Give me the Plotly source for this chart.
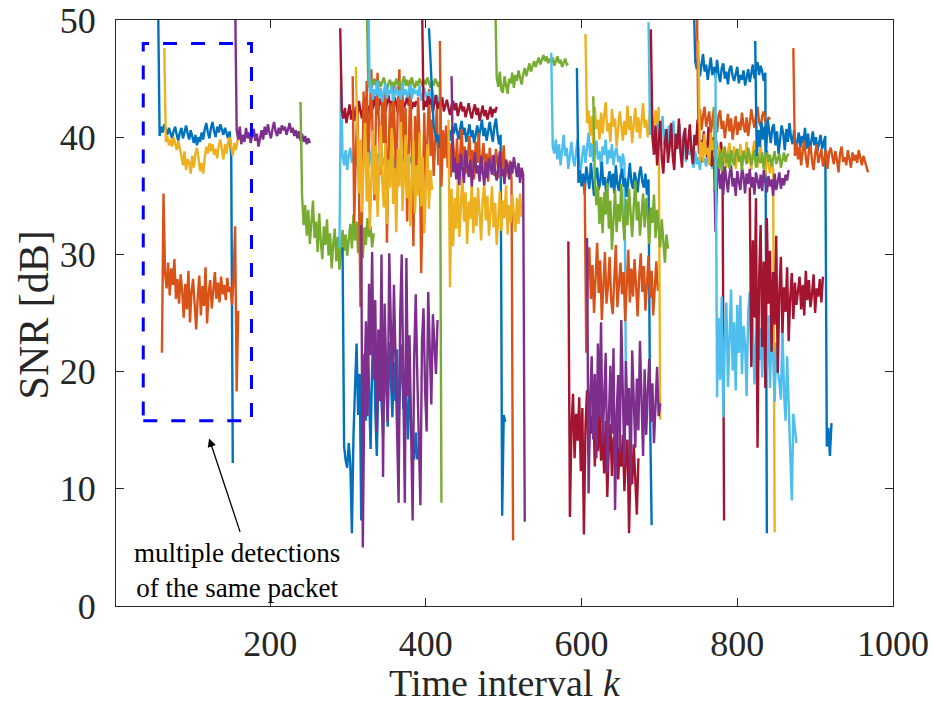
import plotly.graph_objects as go

# MATLAB default colour order (lines are drawn in time order, colours cycle)
colors = ["#0072BD", "#D95319", "#EDB120", "#7E2F8E", "#77AC30", "#4DBEEE", "#A2142F"]

k_step = 2
# start time interval of each detected packet (one line per packet)
k_start = [56, 61, 64, 155, 239, 289, 290, 293, 306, 310, 317, 324, 326, 395, 404,
           418, 429, 433, 489, 561, 583, 594, 604, 605, 607, 615, 686, 689, 744,
           748, 750, 770, 770, 772, 816, 823, 872]

snr_01 = [52.0, 40.1, 40.9, 40.4, 41.1, 40.6, 40.2, 40.8, 40.3, 39.9, 40.5, 40.9, 40.2, 39.7, 40.4, 40.8, 39.9, 40.5, 41.0, 40.3, 39.8, 40.6, 40.1, 39.5, 40.2, 39.3, 40.0, 39.6, 40.4, 39.8, 40.7, 41.2, 40.4, 39.9, 40.8, 41.3, 40.5, 40.0, 40.9, 40.4, 41.1, 40.6, 40.2, 40.8, 40.3, 39.9, 40.5, 38.3, 12.2]
snr_02 = [21.6, 35.2, 28.4, 27.1, 29.3, 26.5, 28.8, 27.4, 29.6, 26.2, 27.9, 25.8, 28.3, 26.9, 24.6, 27.5, 25.3, 28.6, 24.2, 26.8, 27.9, 25.1, 23.6, 26.4, 28.2, 24.8, 27.3, 25.6, 28.9, 24.1, 26.7, 27.8, 25.4, 26.9, 28.5, 26.2, 27.6, 25.9, 28.1, 26.6, 27.4, 26.1, 28.0, 26.8, 27.2, 25.7, 27.9, 32.4, 18.3, 25.2]
snr_03 = [47.6, 39.6, 40.1, 39.3, 39.8, 39.2, 40.0, 39.5, 38.9, 39.7, 39.1, 38.4, 37.6, 38.8, 37.2, 38.1, 37.9, 36.9, 38.4, 37.4, 38.6, 39.1, 38.2, 37.1, 37.8, 36.9, 38.3, 39.2, 38.6, 39.5, 38.8, 39.4, 38.5, 39.0, 38.2, 39.3, 39.8, 38.7, 38.1, 39.4, 38.6, 39.6, 40.0, 39.2, 38.4, 39.5, 38.9, 39.7, 39.9]
snr_04 = [52.0, 40.6, 39.8, 40.9, 39.4, 40.2, 39.6, 40.8, 39.9, 40.4, 39.5, 40.1, 40.7, 39.7, 40.3, 39.2, 40.0, 40.6, 39.8, 40.9, 40.2, 41.1, 40.4, 39.9, 40.7, 41.3, 40.5, 40.1, 40.8, 40.3, 41.0, 40.6, 40.9, 40.2, 40.7, 41.2, 40.4, 40.8, 40.1, 40.6, 39.9, 40.5, 39.7, 40.3, 39.6, 40.1, 39.4, 39.9, 39.5]
snr_05 = [43.0, 35.0, 32.5, 34.2, 31.6, 33.8, 30.9, 33.1, 34.6, 31.4, 32.8, 30.2, 33.5, 31.1, 29.6, 32.4, 30.8, 33.0, 29.9, 31.8, 28.8, 30.9, 32.2, 29.4, 31.5, 28.7, 30.6, 32.1, 30.3, 31.7, 29.9, 31.3, 32.6, 30.5, 33.4, 31.2, 32.8, 30.1, 33.6, 31.9, 29.7, 32.3, 30.8, 33.1, 31.5, 32.4, 30.6, 31.8]
snr_06 = [30.6, 45.2, 38.4, 37.6, 38.9, 37.2, 38.5, 39.1, 37.8, 38.6, 37.4, 38.2, 39.0, 37.7, 38.8, 37.3, 38.4, 37.9, 38.7, 37.5, 38.3, 39.2, 37.8, 38.5, 37.1, 38.6, 38.0, 38.9, 37.6, 38.2, 37.4, 38.8, 38.1, 37.7, 38.5, 37.2, 38.3, 38.9, 37.6, 38.4, 37.9, 38.6, 37.3, 38.1, 38.7, 37.8, 38.3, 37.5]
snr_07 = [49.3, 42.3, 41.6, 42.5, 41.2, 42.0, 42.8, 41.5, 42.3, 41.4, 42.6, 41.9, 43.1, 42.2, 41.6, 42.9, 43.4, 42.1, 42.7, 41.8, 43.2, 42.4, 43.5, 42.6, 41.9, 42.8, 43.3, 42.5, 43.0, 42.2, 42.9, 43.6, 42.7, 43.1, 42.4, 43.4, 42.8, 42.1, 43.0, 42.6, 43.3, 42.5, 42.9, 43.5, 42.7, 43.2, 42.4, 43.0, 42.6, 43.1]
snr_08 = [30.6, 13.6, 12.4, 11.8, 13.9, 12.1, 6.2, 14.5, 18.6, 22.4, 16.3, 19.8, 7.3, 17.1, 21.5, 15.8, 23.8, 18.2, 13.4, 20.6, 24.1, 16.7, 12.8, 19.5, 22.9, 17.4, 14.6, 21.2, 18.9, 15.3, 22.5, 19.6, 16.1, 20.8, 17.5, 21.9, 15.6, 19.2, 22.3, 16.8, 20.1, 17.9, 14.2, 18.6, 15.4, 13.1, 12.5, 14.8, 12.5]
snr_09 = [45.2, 32.7, 38.5, 42.6, 36.1, 25.5, 33.8, 43.9, 39.2, 44.8, 37.5, 41.6, 45.8, 38.9, 34.6, 42.3, 45.5, 40.1, 36.8, 43.7, 39.5, 44.2, 31.0, 38.6, 42.9, 36.4, 44.6, 40.8, 35.2, 43.1, 45.8, 39.7, 44.3, 37.9, 42.5, 32.8, 40.6, 44.9, 38.1, 30.7, 41.8, 36.9, 43.4, 39.9, 28.4, 37.3, 42.1, 35.6, 40.9, 44.1, 38.4, 41.5, 36.7, 39.8, 42.4, 37.6]
snr_10 = [46.0, 41.0, 35.2, 39.8, 33.6, 37.9, 41.2, 34.5, 38.7, 32.1, 36.4, 40.6, 35.1, 39.3, 33.2, 37.8, 41.0, 36.2, 34.0, 39.5, 32.6, 38.1, 35.7, 40.8, 34.3, 37.4, 31.9, 39.0, 35.8, 41.3, 33.7, 37.1, 40.2, 34.8, 38.6, 32.4, 36.9, 39.7, 33.5, 37.6, 35.0, 40.4, 34.1, 38.3, 31.8, 36.5, 39.4, 33.9, 37.2, 35.5]
snr_11 = [32.5, 5.0, 18.6, 24.3, 16.2, 27.5, 21.4, 30.2, 19.3, 26.1, 14.8, 23.6, 17.5, 30.0, 11.0, 25.8, 20.4, 15.7, 30.1, 22.9, 18.1, 27.4, 21.7, 14.3, 8.8, 24.8, 30.0, 19.2, 8.8, 29.7, 17.9, 23.1, 16.4, 7.3, 21.2, 26.6, 19.6, 15.1, 8.6, 22.6, 25.4, 18.4, 14.9, 26.8, 20.7, 17.2, 24.9, 22.1, 19.8, 24.4]
snr_12 = [52.0, 44.6, 44.2, 44.9, 44.4, 45.0, 44.5, 44.1, 44.8, 44.3, 44.7, 45.1, 44.4, 44.0, 44.6, 44.9, 44.2, 44.7, 44.3, 45.0, 44.5, 44.8, 44.1, 44.6, 45.2, 44.4, 44.9, 44.3, 44.7, 45.1, 44.5, 44.2, 44.8, 44.4, 45.0, 44.6, 44.3, 44.9, 44.5, 45.1, 44.7, 44.2, 44.8, 44.4, 45.0, 44.6, 44.3, 44.8, 8.8]
snr_13 = [52.0, 43.8, 44.5, 43.2, 44.1, 43.6, 44.8, 43.4, 44.2, 43.0, 43.9, 44.6, 43.3, 44.0, 43.7, 44.4, 43.1, 43.8, 44.3, 43.5, 44.0, 43.2, 44.7, 43.6, 44.1, 43.4, 43.9, 44.5, 43.3, 44.2, 43.7, 44.0, 43.5, 44.4, 43.1, 43.8, 44.2, 43.6, 43.0, 43.9, 43.4, 44.1, 43.3, 42.8, 43.6, 43.1, 42.7, 43.4, 43.0]
snr_14 = [52.0, 42.3, 43.1, 42.6, 43.5, 42.8, 43.3, 42.1, 42.9, 43.6, 42.4, 43.0, 42.7, 43.4, 42.2, 42.8, 43.2, 42.5, 41.9, 42.7, 43.1, 42.3, 42.9, 41.8, 42.5, 43.0, 42.2, 42.6, 41.7, 42.4, 42.9, 42.1, 41.6, 42.3, 42.8, 41.9, 42.5, 41.4, 42.2, 42.7, 41.8, 42.3, 41.5, 42.0, 42.6, 41.7, 42.4, 42.1, 42.6]
snr_15 = [49.3, 46.5, 43.2, 41.0, 40.4, 39.6, 40.2, 39.1, 39.8, 38.7, 39.4, 38.5, 39.9, 40.6, 39.7, 40.9, 40.3, 41.2, 40.5, 39.8, 40.7, 41.4, 40.2, 40.8, 39.6, 40.4, 41.1, 40.0, 40.6, 39.5, 40.3, 41.0, 39.9, 40.7, 41.5, 40.1, 40.8, 39.7, 40.5, 41.3, 40.4, 39.6, 40.9, 41.6, 40.3, 39.4, 40.2, 7.7, 16.3, 15.7]
snr_16 = [48.2, 35.8, 40.6, 38.2, 41.0, 37.4, 39.5, 36.6, 40.3, 38.8, 37.1, 39.9, 36.3, 38.5, 40.7, 37.6, 39.2, 36.9, 38.7, 40.1, 37.3, 38.9, 36.4, 39.6, 37.8, 40.4, 36.8, 38.3, 39.5, 37.0, 38.6, 36.2, 39.1, 37.5, 38.4, 36.7, 39.0, 37.9, 36.5, 38.2, 37.2, 39.3, 36.6, 37.8, 36.9, 38.0, 36.4, 5.6]
snr_17 = [41.5, 27.2, 35.6, 30.7, 34.8, 32.2, 36.4, 31.5, 34.1, 36.9, 32.8, 35.3, 30.9, 34.5, 33.0, 36.2, 31.8, 34.9, 32.4, 35.7, 33.6, 31.2, 34.7, 36.1, 32.9, 35.0, 31.6, 33.9, 35.8, 32.3, 34.4, 30.8, 33.5, 35.4, 32.0, 34.6, 33.1, 35.9, 31.7, 34.2, 32.7, 35.1, 33.4, 31.9, 34.8, 32.6, 35.2, 33.2]
snr_18 = [45.2, 37.0, 38.3, 36.4, 37.8, 35.9, 38.6, 37.2, 36.1, 38.9, 37.5, 36.6, 38.1, 35.8, 37.3, 38.7, 36.9, 37.6, 36.2, 38.4, 37.1, 35.9, 37.9, 36.5, 38.2, 37.4, 36.8, 38.5, 37.0, 36.3, 37.7, 38.8, 36.7, 37.3, 36.0, 38.1, 37.5, 36.4, 37.9, 36.9, 38.3, 37.2, 36.6, 37.8, 36.1, 37.4, 36.8, 7.2]
snr_19 = [52.0, 45.1, 44.3, 45.6, 44.0, 43.8, 45.2, 44.4, 43.7, 45.0, 44.6, 45.5, 44.2, 45.3, 44.8, 45.7, 45.1, 44.5, 45.4, 45.9, 45.2, 45.8, 46.3, 45.6, 46.1, 46.5, 46.0, 46.4, 46.8, 46.2, 46.6, 47.0, 46.5, 46.9, 46.3, 46.7, 46.4, 46.8, 46.1, 46.5, 46.9, 46.3, 46.6, 46.0, 46.4, 46.7, 46.2, 46.3]
snr_20 = [47.2, 39.2, 38.6, 39.8, 38.1, 39.4, 37.6, 38.9, 40.2, 38.4, 39.1, 37.3, 38.7, 39.6, 38.2, 37.5, 38.8, 39.9, 38.0, 37.2, 38.5, 39.3, 37.8, 38.9, 40.4, 38.3, 39.5, 37.9, 38.6, 39.7, 38.1, 38.8, 37.4, 39.2, 38.5, 39.8, 37.7, 38.9, 38.2, 39.4, 37.6, 38.7, 39.1, 37.9, 38.4, 37.2, 38.6, 37.8, 18.7]
snr_21 = [31.1, 7.6, 15.2, 18.1, 12.6, 16.4, 14.1, 17.8, 11.5, 16.9, 6.1, 15.3, 18.4, 12.9, 16.2, 14.7, 17.3, 11.9, 15.6, 13.2, 16.8, 12.4, 14.9, 11.3, 15.8, 9.3, 13.6, 15.5, 11.1, 14.4, 12.2, 15.9, 10.8, 13.5, 11.9, 14.6, 9.8, 12.9, 14.2, 6.2, 12.7, 10.4, 13.8, 11.2, 7.8, 12.6]
snr_22 = [45.9, 36.1, 37.2, 35.8, 36.9, 35.1, 37.5, 36.3, 35.6, 37.8, 36.5, 35.0, 36.8, 37.4, 35.5, 36.2, 37.9, 35.9, 36.6, 34.8, 36.4, 37.1, 35.7, 36.9, 35.2, 37.6, 36.0, 35.4, 36.7, 37.3, 35.8, 36.5, 34.9, 36.3, 37.8, 36.1, 35.6, 37.0, 36.4, 35.3, 36.8, 37.5, 36.2, 35.7, 36.9, 35.1, 36.4, 16.1, 6.9]
snr_23 = [36.1, 21.6, 28.4, 30.6, 26.2, 29.1, 25.0, 27.8, 31.0, 26.7, 29.5, 24.4, 28.2, 30.2, 25.8, 27.4, 29.8, 26.1, 24.9, 28.7, 30.8, 25.5, 27.9, 29.3, 26.6, 28.5, 24.3, 27.1, 30.4, 25.9, 28.8, 26.4, 29.6, 27.3, 24.7, 28.1, 30.1, 26.8, 29.0, 25.2, 27.6, 29.9, 26.3, 28.6, 24.8, 27.7, 29.4, 26.9, 27.5]
snr_24 = [48.8, 41.2, 42.3, 40.1, 41.8, 39.4, 42.6, 40.7, 41.5, 39.8, 42.1, 40.3, 41.9, 43.0, 40.5, 41.2, 39.6, 42.4, 40.9, 41.6, 39.2, 40.8, 42.2, 41.0, 39.7, 41.4, 40.2, 42.7, 40.6, 41.8, 39.5, 41.1, 42.5, 40.4, 41.7, 39.9, 41.3, 42.9, 40.8, 41.5, 40.0, 42.0, 43.1, 41.4, 40.6, 42.3, 41.0, 42.6, 15.9]
snr_25 = [31.4, 9.6, 17.5, 21.3, 14.2, 19.8, 12.6, 22.4, 16.1, 24.2, 13.8, 18.9, 21.6, 11.4, 17.2, 20.5, 14.7, 22.0, 8.2, 16.3, 19.7, 13.1, 24.4, 17.8, 12.0, 20.9, 15.4, 18.6, 10.3, 21.8, 16.7, 13.5, 19.4, 15.0, 22.6, 17.1, 12.8, 20.2, 14.6, 18.3, 21.1, 15.7, 19.0, 13.9, 17.6, 20.4, 16.2, 17.3]
snr_26 = [43.5, 36.4, 34.2, 35.8, 32.6, 34.9, 31.8, 35.3, 33.4, 36.1, 32.2, 34.6, 30.4, 33.7, 35.5, 31.9, 34.3, 32.8, 36.0, 33.1, 31.2, 34.7, 32.5, 35.6, 33.9, 31.5, 34.1, 36.3, 32.9, 34.5, 31.6, 33.6, 35.2, 32.3, 34.8, 33.2, 30.9, 34.0, 32.7, 35.1, 31.4, 33.8, 32.1, 30.6, 33.0, 31.3, 29.3, 31.7, 30.5]
snr_27 = [49.8, 40.2, 41.5, 39.4, 40.8, 38.6, 41.2, 39.9, 40.5, 41.8, 39.3, 40.7, 38.9, 41.0, 40.1, 39.6, 41.4, 38.8, 40.3, 39.7, 41.1, 38.4, 39.8, 40.6, 37.9, 39.2, 38.5, 39.6, 38.1, 37.4, 38.8, 37.7, 38.3, 37.2, 38.6, 37.9, 38.2, 37.5, 38.7, 37.8, 38.4, 37.3, 38.1, 37.6, 38.5, 37.9, 38.2, 37.4, 38.0, 37.7]
snr_28 = [49.2, 40.1, 38.5, 41.0, 37.6, 39.8, 41.4, 38.2, 36.9, 39.5, 40.7, 37.8, 39.1, 41.2, 38.4, 37.2, 40.3, 39.0, 41.6, 38.7, 37.4, 39.9, 40.8, 38.1, 39.6, 41.1, 38.9, 37.7, 40.2, 39.3, 41.5, 38.6, 39.8, 37.9, 40.5, 39.2, 38.3, 40.9, 39.4, 37.5, 40.0, 38.8, 39.7, 37.1, 38.5, 39.6, 38.2, 7.3]
snr_29 = [52.0, 46.5, 45.8, 46.9, 45.2, 46.4, 47.1, 45.6, 46.2, 44.9, 45.7, 46.8, 45.3, 46.0, 45.1, 46.6, 45.4, 44.7, 45.9, 46.3, 45.0, 45.6, 44.5, 45.8, 46.1, 45.2, 44.8, 45.5, 46.0, 44.6, 45.3, 44.9, 45.7, 44.4, 45.1, 45.8, 44.7, 45.4, 46.2, 45.0, 45.7, 46.4, 45.3, 46.1, 45.6, 44.8, 45.5, 6.2]
snr_30 = [52.0, 41.2, 42.4, 40.6, 41.8, 42.6, 40.9, 41.5, 42.2, 40.3, 41.7, 42.5, 41.0, 40.4, 41.9, 42.3, 40.7, 41.4, 39.9, 41.1, 42.0, 40.5, 41.6, 39.8, 40.9, 41.8, 40.2, 41.3, 40.6, 42.1, 41.0, 40.4, 41.7, 40.1, 41.2, 42.4, 41.5, 40.8, 41.9, 42.6, 41.3, 40.9, 41.8, 42.2, 41.4, 41.0, 41.7, 41.5]
snr_31 = [48.2, 38.0, 39.6, 37.8, 40.3, 38.5, 39.1, 37.6, 40.4, 38.9, 39.7, 38.2, 37.5, 39.3, 38.6, 37.9, 39.0, 38.3, 37.4, 38.8, 39.5, 37.7, 38.4, 39.2, 37.3, 38.7, 38.1, 39.4, 37.6, 38.9, 38.2, 39.6, 37.8, 38.5, 37.2, 38.9, 39.7, 38.0, 37.4, 38.6, 39.3, 38.1, 37.5, 36.6, 38.3, 37.7, 36.9, 38.2, 37.4, 6.3]
snr_32 = [38.4, 31.9, 36.2, 37.3, 35.6, 36.9, 35.1, 37.5, 36.4, 35.3, 36.8, 37.6, 35.8, 36.5, 35.0, 37.1, 36.2, 35.5, 37.4, 36.7, 35.2, 36.9, 36.0, 37.3, 35.7, 36.6, 35.1, 37.0, 36.3, 35.6, 36.8, 35.4, 37.2, 36.1, 35.3, 36.7, 35.8, 36.4, 35.0, 36.9, 35.5, 36.2, 37.0, 35.6, 36.5, 35.9, 36.8, 36.3, 37.2]
snr_33 = [42.6, 35.5, 38.2, 37.4, 38.8, 37.1, 38.5, 39.2, 37.8, 38.6, 37.3, 38.9, 38.1, 37.6, 38.7, 39.0, 37.9, 38.4, 37.2, 38.8, 38.3, 37.7, 39.1, 38.5, 37.6, 38.2, 38.9, 37.4, 38.6, 38.0, 37.8, 38.7, 37.3, 38.4, 38.9, 37.9, 38.5, 37.5, 38.3, 38.8, 37.7, 38.1, 38.6, 37.4, 38.2, 38.7, 37.9, 38.4, 38.6]
snr_34 = [45.5, 17.8, 24.6, 19.3, 26.4, 16.1, 22.8, 25.9, 18.7, 23.5, 27.0, 20.1, 24.2, 18.4, 25.7, 21.6, 26.5, 19.8, 23.9, 22.4, 17.9, 25.1, 26.8, 20.7, 24.5, 18.9, 22.1, 25.3, 21.0, 23.7, 19.5, 26.1, 22.7, 20.3, 24.8, 18.6, 23.2, 21.8, 17.4, 22.5, 20.0, 19.1, 17.6, 24.0, 18.2, 15.8, 21.3, 17.0, 13.9, 9.0, 16.4, 14.8, 13.9]
snr_35 = [35.7, 20.4, 31.2, 24.6, 34.8, 13.5, 27.9, 32.5, 22.1, 29.4, 18.6, 33.1, 25.8, 30.3, 21.7, 28.5, 24.0, 31.6, 19.9, 26.7, 29.8, 23.3, 27.2, 25.1, 28.9, 22.6, 26.3, 28.4, 24.5, 27.6, 25.7, 26.9, 28.1, 25.3, 27.4, 24.8, 28.6, 26.1, 27.8, 25.5, 26.6, 28.3, 25.0, 27.1, 26.4, 27.9, 25.9, 28.1]
snr_36 = [48.2, 38.4, 40.6, 39.2, 41.3, 39.8, 40.9, 38.7, 41.5, 40.2, 39.5, 40.8, 41.1, 39.3, 40.5, 38.6, 39.9, 41.0, 40.3, 38.9, 40.7, 39.6, 41.2, 40.0, 39.4, 40.6, 38.8, 39.7, 40.4, 39.1, 40.1, 39.5, 40.8, 39.0, 40.3, 38.7, 39.8, 40.5, 39.3, 40.0, 38.8, 39.6, 40.2, 39.0, 39.7, 40.1, 13.6, 15.2, 12.8, 15.6]
snr_37 = [47.6, 38.4, 39.5, 38.1, 39.2, 37.6, 38.8, 39.7, 38.3, 37.4, 38.9, 39.3, 38.0, 37.2, 38.6, 39.4, 37.8, 38.5, 39.0, 37.5, 38.2, 38.9, 37.3, 38.7, 39.1, 38.4, 37.7, 38.8, 38.1, 37.0, 38.6, 39.2, 37.9, 38.3, 37.6, 38.9, 38.2, 37.4, 38.7, 38.0, 38.5, 37.8, 38.9, 38.3, 37.6, 38.4, 38.0, 37.5, 37.0]

series = [snr_01, snr_02, snr_03, snr_04, snr_05, snr_06, snr_07, snr_08, snr_09, snr_10,
          snr_11, snr_12, snr_13, snr_14, snr_15, snr_16, snr_17, snr_18, snr_19, snr_20,
          snr_21, snr_22, snr_23, snr_24, snr_25, snr_26, snr_27, snr_28, snr_29, snr_30,
          snr_31, snr_32, snr_33, snr_34, snr_35, snr_36, snr_37]

x_ticks = [200, 400, 600, 800, 1000]
y_ticks = [0, 10, 20, 30, 40, 50]

x_title = "Time interval <i>k</i>"
y_title = "SNR [dB]"

# annotation box (time interval / SNR extent) and arrow
box_k = [37, 176]
box_snr = [15.8, 48.0]
note_text = "multiple detections<br>of the same packet"

fig = go.Figure()
for i, (k0, vals) in enumerate(zip(k_start, series)):
    ks = [k0 + k_step * j for j in range(len(vals))]
    fig.add_trace(go.Scatter(x=ks, y=vals, mode="lines",
                             line=dict(color=colors[i % len(colors)], width=2.4),
                             showlegend=False, hoverinfo="skip"))

fig.add_shape(type="rect", xref="x", yref="y",
              x0=box_k[0], x1=box_k[1], y0=box_snr[0], y1=box_snr[1],
              line=dict(color="#0000FF", width=3, dash="14px,14px"))

fig.add_annotation(x=121.6, y=14.3, ax=162, ay=6.2, xref="x", yref="y",
                   axref="x", ayref="y", text="", showarrow=True,
                   arrowhead=2, arrowsize=1.3, arrowwidth=1.3, arrowcolor="black")
fig.add_annotation(x=157, y=3.0, xref="x", yref="y", text=note_text,
                   showarrow=False, align="center",
                   font=dict(family="Liberation Serif", size=27, color="black"))

# axis titles
fig.add_annotation(x=0.5, y=-0.131, xref="paper", yref="paper", text=x_title,
                   showarrow=False, xanchor="center", yanchor="middle",
                   font=dict(family="Liberation Serif", size=38, color="#262626"))
fig.add_annotation(x=-0.106, y=0.497, xref="paper", yref="paper", text=y_title,
                   showarrow=False, xanchor="center", yanchor="middle", textangle=-90,
                   font=dict(family="Liberation Serif", size=42, color="#262626"))

axis_common = dict(showline=True, linecolor="#262626", linewidth=1, mirror="ticks",
                   ticks="inside", ticklen=8, tickwidth=1, tickcolor="#262626",
                   showgrid=False, zeroline=False, ticklabeloverflow="allow",
                   automargin=False,
                   tickfont=dict(family="Liberation Serif", size=36, color="#262626"))

fig.update_layout(
    width=933, height=704,
    margin=dict(l=116, r=40, t=20, b=98),
    paper_bgcolor="white", plot_bgcolor="white",
    xaxis=dict(range=[2, 1000], tickvals=x_ticks, ticklabelstandoff=6, **axis_common),
    yaxis=dict(range=[0, 50], tickvals=y_ticks, ticklabelstandoff=12, **axis_common),
)

fig.write_html("out.html", config={"displayModeBar": False},
               post_script="document.body.style.margin='0px';"
                           "document.body.style.overflow='hidden';")
